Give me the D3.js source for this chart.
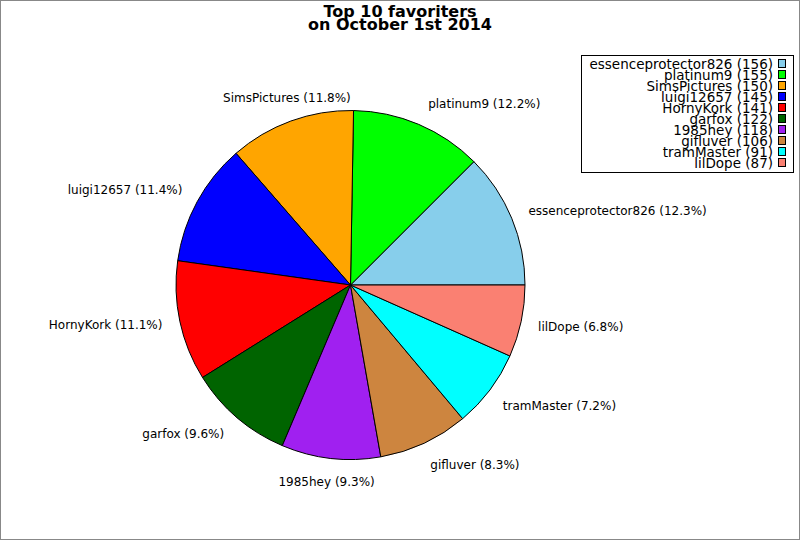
<!DOCTYPE html>
<html>
<head>
<meta charset="utf-8">
<script src="https://cdn.jsdelivr.net/npm/d3@7"></script>
<style>
  body { margin: 0; background: #fff; }
  svg { display: block; font-family: "DejaVu Sans", sans-serif; }
</style>
</head>
<body>
<div id="chart"></div>
<script>
const names = ["essenceprotector826", "platinum9", "SimsPictures", "luigi12657", "HornyKork",
               "garfox", "1985hey", "gifluver", "tramMaster", "lilDope"];
const counts = [156, 155, 150, 145, 141, 122, 118, 106, 91, 87];
const colors = ["#87ceeb", "#00ff00", "#ffa500", "#0000ff", "#ff0000",
                "#006400", "#a020f0", "#cd853f", "#00ffff", "#fa8072"];
const titleLines = ["Top 10 favoriters", "on October 1st 2014"];

const width = 800, height = 540;
const cx = 350.5, cy = 285, r = 174.5;
const labelR = 192;

const svg = d3.select("#chart").append("svg")
    .attr("width", width)
    .attr("height", height);

// frame
svg.append("rect")
    .attr("x", 0.5).attr("y", 0.5)
    .attr("width", width - 1).attr("height", height - 1)
    .attr("fill", "#fff")
    .attr("stroke", "#888");

// title
svg.append("text")
    .attr("x", 400)
    .attr("y", 17)
    .attr("text-anchor", "middle")
    .attr("font-size", 16)
    .attr("font-weight", "bold")
    .selectAll("tspan")
    .data(titleLines)
    .enter().append("tspan")
    .attr("x", 400)
    .attr("dy", (d, i) => i === 0 ? 0 : 13)
    .text(d => d);

const total = d3.sum(counts);
const data = names.map((n, i) => ({ name: n, value: counts[i], color: colors[i] }));

// counter-clockwise from 3 o'clock; d3 angles run clockwise from 12
const pie = d3.pie()
    .value(d => d.value)
    .sort(null)
    .startAngle(Math.PI / 2)
    .endAngle(Math.PI / 2 - 2 * Math.PI);

// the original snaps slice edges up to whole degrees
const toDeg = a => (Math.PI / 2 - a) * 180 / Math.PI;
const fromDeg = d => Math.PI / 2 - d * Math.PI / 180;
const arcs = pie(data).map(d => {
    const s = Math.ceil(toDeg(d.startAngle) - 1e-9);
    const e = Math.ceil(toDeg(d.endAngle) - 1e-9);
    return Object.assign({}, d, {
        startAngle: fromDeg(s),
        endAngle: fromDeg(Math.min(e, 360)),
        midAngle: (d.startAngle + d.endAngle) / 2
    });
});

const arc = d3.arc().innerRadius(0).outerRadius(r);

const g = svg.append("g").attr("transform", `translate(${cx},${cy})`);

g.selectAll("path.slice")
    .data(arcs)
    .enter().append("path")
    .attr("class", "slice")
    .attr("d", arc)
    .attr("fill", d => d.data.color)
    .attr("stroke", "#000")
    .attr("stroke-width", 1);

// labels
g.selectAll("text.label")
    .data(arcs)
    .enter().append("text")
    .attr("class", "label")
    .attr("font-size", 12)
    .attr("fill", "#000")
    .each(function (d) {
        const a = d.midAngle; // d3 angle: clockwise from 12
        const c = Math.sin(a), s = -Math.cos(a);
        const x = labelR * c;
        const y = labelR * s + s * 6;
        let anchor = "middle";
        if (c > 0.35) anchor = "start";
        else if (c < -0.35) anchor = "end";
        d3.select(this)
            .attr("x", x)
            .attr("y", y)
            .attr("dy", "0.35em")
            .attr("text-anchor", anchor)
            .text(`${d.data.name} (${(d.data.value / total * 100).toFixed(1)}%)`);
    });

// legend
const legend = svg.append("g");
legend.append("rect")
    .attr("x", 581.5).attr("y", 55.5)
    .attr("width", 212).attr("height", 117)
    .attr("fill", "#fff")
    .attr("stroke", "#000");

const rowY = d3.scaleLinear().domain([0, names.length - 1]).range([64, 163]);

const rows = legend.selectAll("g.row")
    .data(data)
    .enter().append("g")
    .attr("class", "row")
    .attr("transform", (d, i) => `translate(0,${rowY(i)})`);

rows.append("text")
    .attr("x", 773)
    .attr("dy", "0.35em")
    .attr("text-anchor", "end")
    .attr("font-size", 13.5)
    .text(d => `${d.name} (${d.value})`);

rows.append("rect")
    .attr("x", 778.5).attr("y", -4.5)
    .attr("width", 7).attr("height", 8)
    .attr("fill", d => d.color)
    .attr("stroke", "#000");
</script>
</body>
</html>
